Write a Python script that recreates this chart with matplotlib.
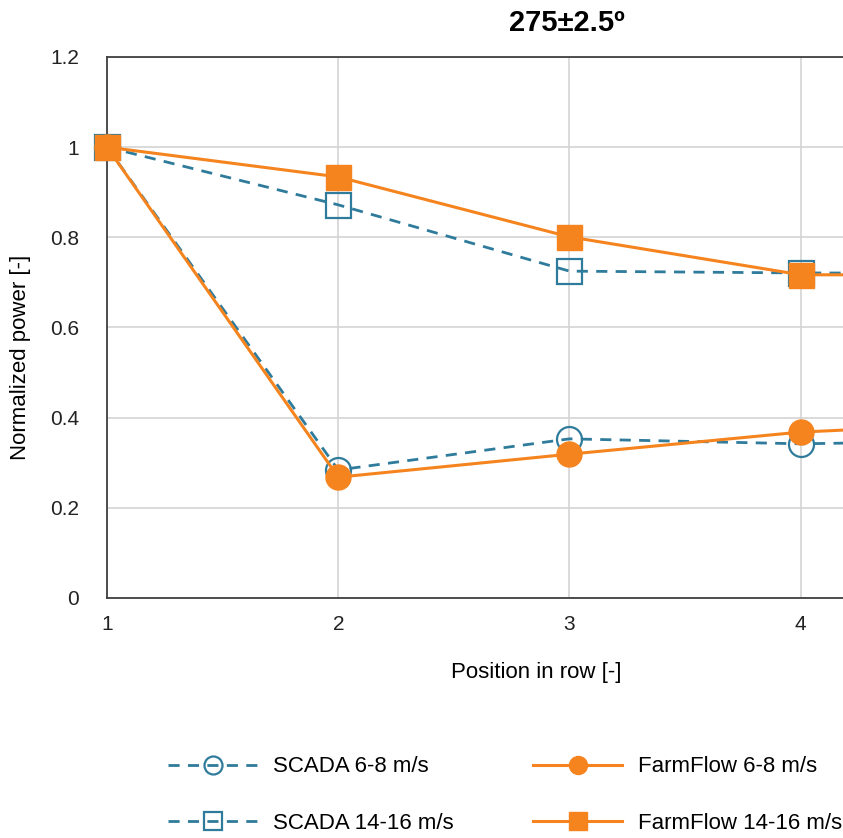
import matplotlib.pyplot as plt

plt.rcParams['font.family'] = ['Liberation Sans', 'DejaVu Sans']

position = [1, 2, 3, 4, 5]
scada_6_8 = [1.0, 0.284, 0.353, 0.342, 0.35]
farmflow_6_8 = [1.0, 0.268, 0.319, 0.368, 0.392]
scada_14_16 = [1.0, 0.872, 0.725, 0.721, 0.72]
farmflow_14_16 = [1.0, 0.934, 0.801, 0.717, 0.716]
xticks = [1, 2, 3, 4]
yticks = [0, 0.2, 0.4, 0.6, 0.8, 1, 1.2]
yticklabels = ['0', '0.2', '0.4', '0.6', '0.8', '1', '1.2']

blue = '#2f7b9b'
orange = '#f5841f'

fig = plt.figure(figsize=(8.43, 8.38), dpi=100)
# the axes run past the right edge of the figure (cropped original)
ax = fig.add_axes([0.127, 0.2864, 1.097, 0.6456])

ax.plot(position, scada_6_8, '--', color=blue, lw=2, dashes=(4, 3), clip_on=False,
        marker='o', ms=18, mfc='none', mec=blue, mew=1.6, label='SCADA 6-8 m/s', zorder=3)
ax.plot(position, scada_14_16, '--', color=blue, lw=2, dashes=(4, 3), clip_on=False,
        marker='s', ms=18, mfc='none', mec=blue, mew=1.6, label='SCADA 14-16 m/s', zorder=3)
ax.plot(position, farmflow_6_8, '-', color=orange, lw=2.2, clip_on=False,
        marker='o', ms=18, label='FarmFlow 6-8 m/s', zorder=4)
ax.plot(position, farmflow_14_16, '-', color=orange, lw=2.2, clip_on=False,
        marker='s', ms=18, label='FarmFlow 14-16 m/s', zorder=4)

ax.set_xlim(1, 5)
ax.set_ylim(0, 1.2)
ax.set_xticks(xticks)
ax.set_yticks(yticks)
ax.set_yticklabels(yticklabels)
ax.tick_params(axis='both', length=0, labelsize=15, colors='#222222')
ax.tick_params(axis='y', pad=20)
ax.tick_params(axis='x', pad=12)
ax.grid(True, color='#d4d4d4', lw=1.2)
ax.set_axisbelow(True)
for s in ['left', 'bottom', 'top']:
    ax.spines[s].set_color('#404040')
    ax.spines[s].set_linewidth(1.3)
ax.spines['right'].set_visible(False)

fig.text(0.673, 0.972, '275±2.5º', ha='center', va='center', fontsize=21, fontweight='bold')
fig.text(0.636, 0.198, 'Position in row [-]', ha='center', va='center', fontsize=16)
fig.text(0.024, 0.574, 'Normalized power [-]', ha='center', va='center', fontsize=16, rotation=90)

h, l = ax.get_legend_handles_labels()
fig.legend(h, l, ncol=2, frameon=False,
           loc='center', bbox_to_anchor=(0.599, 0.051), fontsize=16,
           handlelength=4.0, markerscale=0.72, labelspacing=1.6, columnspacing=3.6,
           handletextpad=0.7)

fig.savefig('out.png', dpi=100)
